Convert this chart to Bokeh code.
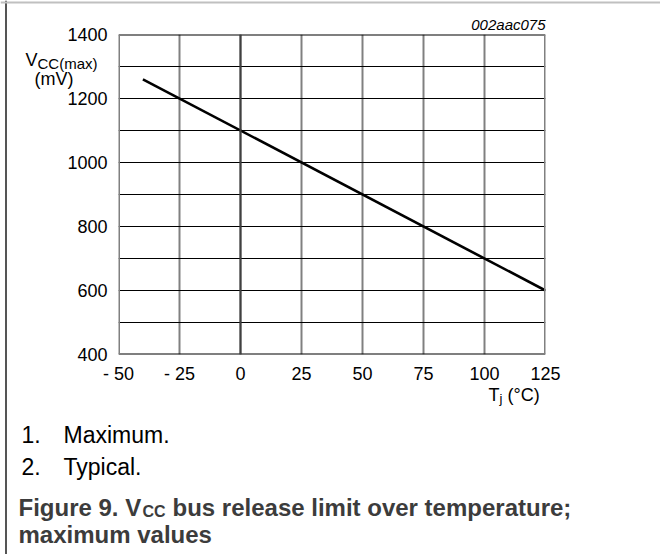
from bokeh.plotting import figure
from bokeh.models import Range1d, FixedTicker, Label, Span, GridBox
from bokeh.embed import file_html
from bokeh.resources import INLINE

# ---- data ----
temp_c = [-40, 125]
vcc_max_mv = [1260, 600]
x_ticks = [-50, -25, 0, 25, 50, 75, 100, 125]
x_tick_labels = ["- 50", "- 25", "0", "25", "50", "75", "100", "125"]
y_ticks = [400, 600, 800, 1000, 1200, 1400]
y_grid = [400, 500, 600, 700, 800, 900, 1000, 1100, 1200, 1300, 1400]

FONT = "Liberation Sans"
W, H = 660, 554
FL, FT, FW, FH = 118, 34, 427, 320  # frame within figure

# ---- chart ----
p = figure(width=W, height=H, output_backend="svg", toolbar_location=None,
           x_range=Range1d(-50, 125), y_range=Range1d(400, 1400),
           min_border_left=FL, min_border_right=W - FL - FW,
           min_border_top=FT, min_border_bottom=H - FT - FH,
           frame_align=False)
p.outline_line_color = None

p.xgrid.ticker = FixedTicker(ticks=x_ticks)
p.xgrid.grid_line_color = "#808080"
p.xgrid.grid_line_width = 2
p.ygrid.ticker = FixedTicker(ticks=y_grid)
p.ygrid.grid_line_color = "black"
p.ygrid.grid_line_width = 1.2

# frame edges and the darker 0 line
p.add_layout(Span(location=400, dimension="width", line_color="black", line_width=2))
p.add_layout(Span(location=1400, dimension="width", line_color="black", line_width=2))
p.add_layout(Span(location=-50, dimension="height", line_color="#808080", line_width=3))
p.add_layout(Span(location=125, dimension="height", line_color="#808080", line_width=3))
p.add_layout(Span(location=0, dimension="height", line_color="#404040", line_width=2))

for ax in (p.xaxis[0], p.yaxis[0]):
    ax.axis_line_color = None
    ax.major_tick_line_color = None
    ax.minor_tick_line_color = None
    ax.major_tick_out = 0
    ax.major_tick_in = 0
    ax.minor_tick_out = 0
    ax.major_label_text_font = FONT
    ax.major_label_text_font_size = "18px"
    ax.major_label_text_color = "black"

p.xaxis.ticker = FixedTicker(ticks=x_ticks)
p.xaxis.major_label_overrides = {t: s for t, s in zip(x_ticks, x_tick_labels)}
p.xaxis.major_label_standoff = 9
p.yaxis.ticker = FixedTicker(ticks=y_ticks)
p.yaxis.major_label_standoff = 11

p.line(temp_c, vcc_max_mv, line_color="black", line_width=2.6)

# ---- text layer (same size, frame = whole canvas, y measured from top) ----
t = figure(width=W, height=H, output_backend="svg", toolbar_location=None,
           x_range=Range1d(0, W), y_range=Range1d(H, 0),
           x_axis_location=None, y_axis_location=None, title=None,
           min_border=0, frame_align=False)
t.grid.visible = False
t.outline_line_color = None
t.background_fill_alpha = 0
t.border_fill_alpha = 0


def lab(text, px, py, size, style="normal", align="left", color="black"):
    t.add_layout(Label(x=px, y=py, text=text, text_font=FONT,
                       text_font_size=f"{size}px", text_font_style=style,
                       text_align=align, text_baseline="alphabetic",
                       text_color=color))


# box border of the figure panel
t.add_layout(Span(location=5.5, dimension="height", line_color="#555555", line_width=2))
t.add_layout(Span(location=2, dimension="width", line_color="#c0c0c0", line_width=2))

# axis titles
lab("V", 25, 59, 18)
lab("CC(max)", 37, 63, 15)
lab("(mV)", 34, 78, 18)
lab("002aac075", 545, 24, 15, style="italic", align="right")
lab("T", 488, 394, 18)
lab("j", 499, 398, 13)
lab("(°C)", 507, 394, 18)

# notes & caption
lab("1.", 21, 434, 23)
lab("Maximum.", 63, 434, 23)
lab("2.", 21, 466, 23)
lab("Typical.", 63, 466, 23)
cap = "#3c3c3c"
lab("Figure 9.  V", 18, 507, 24, style="bold", color=cap)
lab("CC", 142, 511, 16, style="bold", color=cap)
lab("bus release limit over temperature;", 172, 507, 24, style="bold", color=cap)
lab("maximum values", 18, 534, 24, style="bold", color=cap)

layout = GridBox(children=[(p, 0, 0), (t, 0, 0)])

open("out.html", "w").write(file_html(layout, INLINE))
